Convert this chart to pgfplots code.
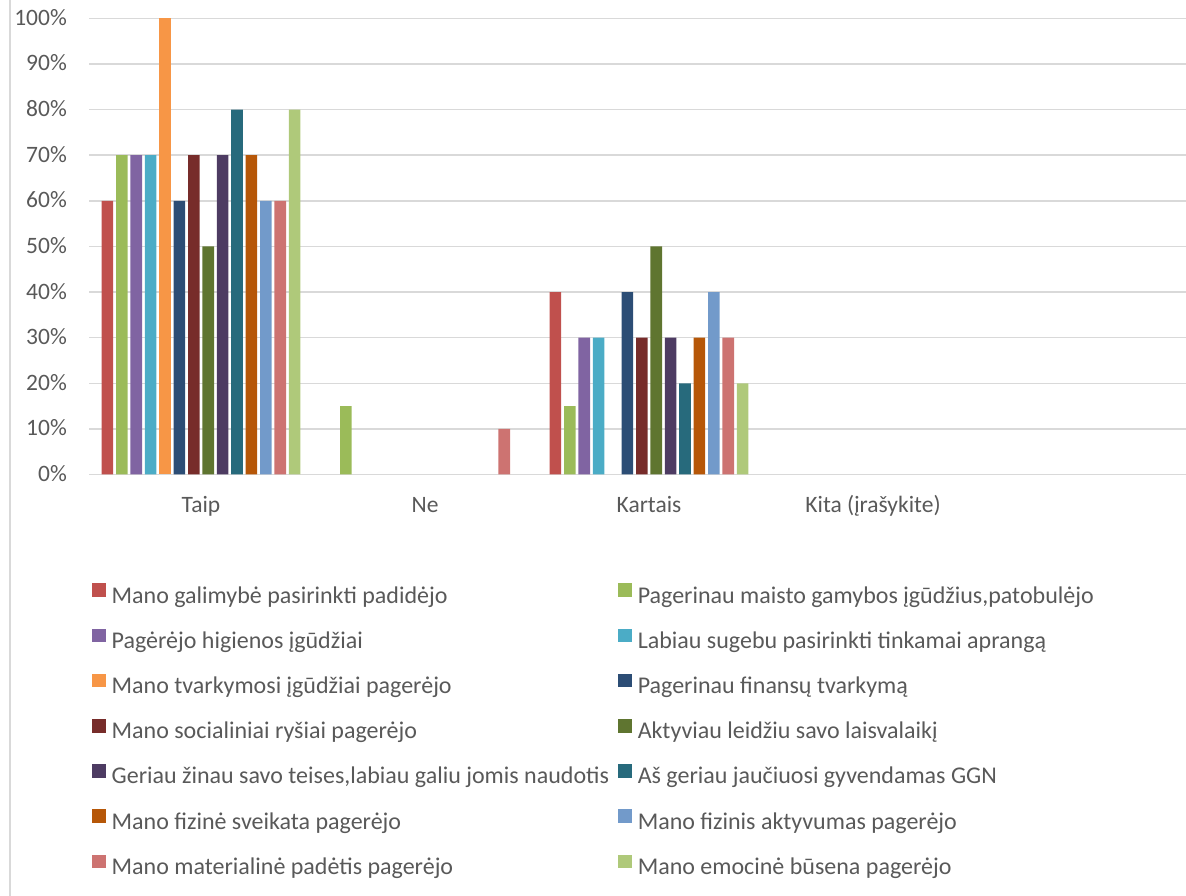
\documentclass[border=0pt]{standalone}
\usepackage{pgfplots}
\pgfplotsset{compat=1.18}
\usepackage{fontspec}
\setmainfont{Carlito}
\definecolor{gridc}{HTML}{D9D9D9}
\definecolor{textc}{HTML}{595959}
\definecolor{c1}{HTML}{C0504D}
\definecolor{c2}{HTML}{9BBB59}
\definecolor{c3}{HTML}{8064A2}
\definecolor{c4}{HTML}{4BACC6}
\definecolor{c5}{HTML}{F79646}
\definecolor{c6}{HTML}{2C4D75}
\definecolor{c7}{HTML}{772C2A}
\definecolor{c8}{HTML}{5F7530}
\definecolor{c9}{HTML}{4D3B62}
\definecolor{c10}{HTML}{276A7C}
\definecolor{c11}{HTML}{B65708}
\definecolor{c12}{HTML}{729ACA}
\definecolor{c13}{HTML}{CD7371}
\definecolor{c14}{HTML}{AFC97A}
\begin{document}
\begin{tikzpicture}
\useasboundingbox (0,0) rectangle (1186pt,896pt);
\draw[line width=1.5pt, color=gridc] (10pt,0) -- (10pt,896pt);
\begin{axis}[
  at={(89pt,421.5pt)}, anchor=south west,
  scale only axis, width=1097pt, height=456.2pt,
  ybar=2.8pt, bar width=11.6pt,
  xmin=-0.5, xmax=4.397, ymin=0, ymax=100,
  xtick={0,1,2,3}, xticklabels={Taip,Ne,Kartais,Kita (įrašykite)},
  ytick={0,10,...,100},
  /pgf/number format/assume math mode=true,
  yticklabel={\pgfmathprintnumber{\tick}\%},
  ymajorgrids, major grid style={color=gridc, line width=1.5pt},
  axis line style={draw=none},
  major tick length=0pt,
  tick label style={font=\fontsize{23.5}{23.5}\selectfont, text=textc},
  yticklabel style={anchor=base east, inner sep=0pt, xshift=-22pt, yshift=-7pt},
  xticklabel style={anchor=base, inner sep=0pt, yshift=-38.5pt},
  legend columns=2,
  legend cell align=left,
  legend image code/.code={\fill[#1] (0pt,0pt) rectangle (13.7pt,13.7pt);},
  legend style={
    at={(axis description cs:0.0027,-0.2385)}, anchor=north west,
    draw=none, fill=none, inner sep=0pt, outer sep=0pt,
    font=\fontsize{24}{24}\selectfont, text=textc,
    row sep=20.5pt, column sep=0pt,
    nodes={inner sep=0pt, text height=17pt, text depth=5pt},
    /tikz/every odd column/.append style={column sep=6pt},
    /tikz/every even column/.append style={column sep=9pt},
  },
  every axis plot/.append style={draw=none},
]
\addplot[fill=c1] coordinates {(0,60) (2,40)};
\addlegendentry{Mano galimybė pasirinkti padidėjo}
\addplot[fill=c2] coordinates {(0,70) (1,15) (2,15)};
\addlegendentry{Pagerinau maisto gamybos įgūdžius,patobulėjo}
\addplot[fill=c3] coordinates {(0,70) (2,30)};
\addlegendentry{Pagėrėjo higienos įgūdžiai}
\addplot[fill=c4] coordinates {(0,70) (2,30)};
\addlegendentry{Labiau sugebu pasirinkti tinkamai aprangą}
\addplot[fill=c5] coordinates {(0,100)};
\addlegendentry{Mano tvarkymosi įgūdžiai pagerėjo}
\addplot[fill=c6] coordinates {(0,60) (2,40)};
\addlegendentry{Pagerinau finansų tvarkymą}
\addplot[fill=c7] coordinates {(0,70) (2,30)};
\addlegendentry{Mano socialiniai ryšiai pagerėjo}
\addplot[fill=c8] coordinates {(0,50) (2,50)};
\addlegendentry{Aktyviau leidžiu savo laisvalaikį}
\addplot[fill=c9] coordinates {(0,70) (2,30)};
\addlegendentry{Geriau žinau savo teises,labiau galiu jomis naudotis}
\addplot[fill=c10] coordinates {(0,80) (2,20)};
\addlegendentry{Aš geriau jaučiuosi gyvendamas GGN}
\addplot[fill=c11] coordinates {(0,70) (2,30)};
\addlegendentry{Mano fizinė sveikata pagerėjo}
\addplot[fill=c12] coordinates {(0,60) (2,40)};
\addlegendentry{Mano fizinis aktyvumas pagerėjo}
\addplot[fill=c13] coordinates {(0,60) (1,10) (2,30)};
\addlegendentry{Mano materialinė padėtis pagerėjo}
\addplot[fill=c14] coordinates {(0,80) (2,20)};
\addlegendentry{Mano emocinė būsena pagerėjo}
\end{axis}
\end{tikzpicture}
\end{document}
